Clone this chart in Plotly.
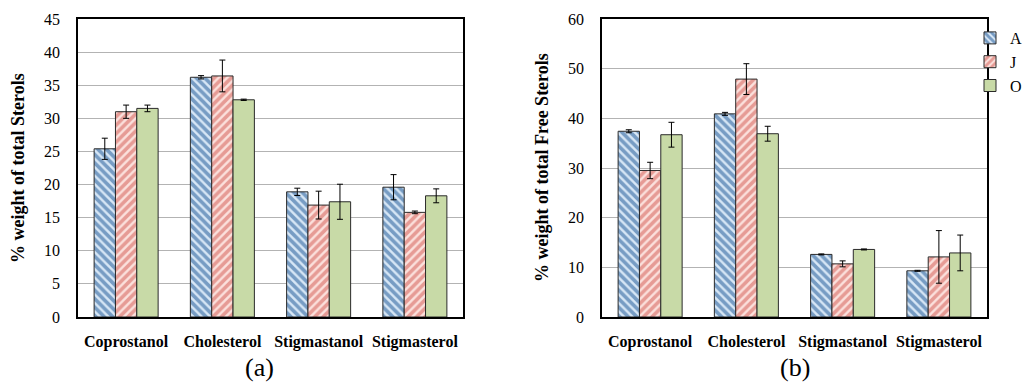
import plotly.graph_objects as go

# Sterol categories and sampling groups
categories = ["Coprostanol", "Cholesterol", "Stigmastanol", "Stigmasterol"]
groups = ["A", "J", "O"]

# (a) % weight of total sterols
total_A = [25.4, 36.2, 18.9, 19.6]
total_A_err = [1.6, 0.25, 0.55, 1.9]
total_J = [31.0, 36.4, 16.9, 15.8]
total_J_err = [1.0, 2.4, 2.1, 0.2]
total_O = [31.5, 32.8, 17.4, 18.3]
total_O_err = [0.5, 0.1, 2.65, 1.05]

# (b) % weight of total free sterols
free_A = [37.4, 40.9, 12.6, 9.3]
free_A_err = [0.3, 0.3, 0.1, 0.1]
free_J = [29.5, 47.9, 10.7, 12.1]
free_J_err = [1.65, 3.1, 0.6, 5.3]
free_O = [36.7, 36.9, 13.6, 12.9]
free_O_err = [2.5, 1.5, 0.1, 3.6]

styles = {
    "A": dict(color="#d8e7f6", pattern=dict(shape="\\", fgcolor="#155291", bgcolor="#d8e7f6", size=6, solidity=0.6)),
    "J": dict(color="#fbe1dd", pattern=dict(shape="/", fgcolor="#d2564e", bgcolor="#fbe1dd", size=6, solidity=0.6)),
    "O": dict(color="#c8daa7"),
}

FONT = "Liberation Serif"

fig = go.Figure()

panel_data = [
    ("x", "y", [(total_A, total_A_err), (total_J, total_J_err), (total_O, total_O_err)], True),
    ("x2", "y2", [(free_A, free_A_err), (free_J, free_J_err), (free_O, free_O_err)], False),
]

for xa, ya, series, first in panel_data:
    for g, (vals, errs) in zip(groups, series):
        marker = dict(styles[g])
        marker["line"] = dict(color="#2a2a2a", width=1)
        fig.add_trace(go.Bar(
            x=categories, y=vals, name=g, xaxis=xa, yaxis=ya,
            marker=marker,
            error_y=dict(type="data", array=errs, color="black", thickness=1, width=3),
            showlegend=not first,
        ))

y_top = 1 - 19 / 383
y_bot = 1 - 317 / 383

axis_common = dict(showline=True, linecolor="black", linewidth=1.5, mirror=True)
xtick = dict(ticks="outside", ticklen=9, tickcolor="rgba(0,0,0,0)",
             tickfont=dict(size=16, family=FONT, weight="bold", color="black"))
ytick = dict(showgrid=True, gridcolor="#b3b3b3", gridwidth=1, ticks="", ticklabelstandoff=13,
             tickfont=dict(size=16, family=FONT, color="black"))

fig.update_layout(
    width=1025, height=383,
    margin=dict(l=0, r=0, t=0, b=0, autoexpand=False),
    paper_bgcolor="white", plot_bgcolor="white",
    barmode="group", bargap=0.335, bargroupgap=0,
    font=dict(family=FONT, color="black"),
    xaxis=dict(domain=[78 / 1025, 463 / 1025], anchor="y", **axis_common, **xtick),
    yaxis=dict(domain=[y_bot, y_top], anchor="x", range=[0, 45], dtick=5, **axis_common, **ytick),
    xaxis2=dict(domain=[602 / 1025, 987 / 1025], anchor="y2", **axis_common, **xtick),
    yaxis2=dict(domain=[y_bot, y_top], anchor="x2", range=[0, 60], dtick=10, **axis_common, **ytick),
    legend=dict(x=970 / 1025, y=1 - 21 / 383, xanchor="left", yanchor="top",
                font=dict(size=16, family=FONT), bgcolor="rgba(0,0,0,0)",
                itemwidth=30, tracegroupgap=0),
)

for text, cx in [("% weight of total Sterols", 18), ("% weight of total Free Sterols", 542)]:
    fig.add_annotation(xref="paper", yref="paper", xanchor="center", yanchor="middle",
                       showarrow=False, text=text, x=cx / 1025, y=(y_top + y_bot) / 2,
                       textangle=-90, font=dict(size=18, family=FONT, weight="bold"))

for label, cx in [("(a)", 259), ("(b)", 795)]:
    fig.add_annotation(xref="paper", yref="paper", xanchor="center", yanchor="middle",
                       showarrow=False, text=label, x=cx / 1025, y=1 - 367 / 383,
                       font=dict(size=26, family=FONT))

fig.write_html("out.html")
